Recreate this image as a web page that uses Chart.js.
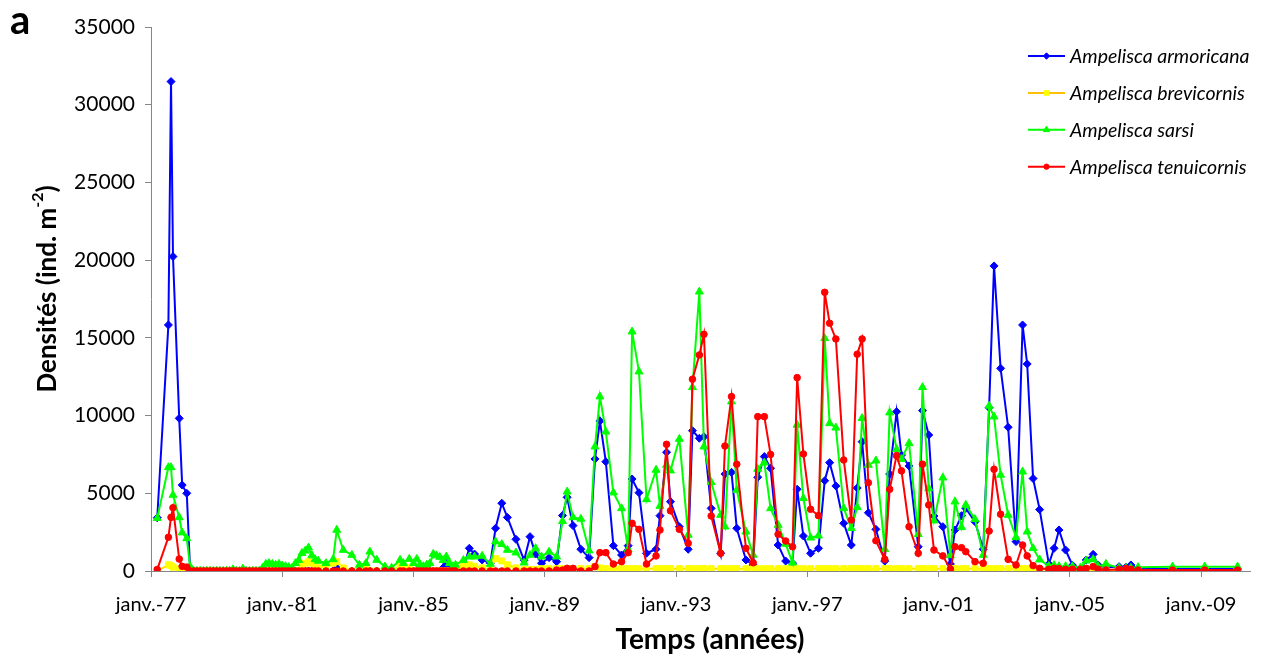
<!DOCTYPE html>
<html>
<head>
<meta charset="utf-8">
<script src="https://cdn.jsdelivr.net/npm/chart.js@4.4.0/dist/chart.umd.min.js"></script>
<style>
  html, body { margin: 0; padding: 0; background: #fff; }
  #wrap { width: 1261px; height: 657px; }
</style>
</head>
<body>
<div id="wrap"><canvas id="chart" width="1261" height="657"></canvas></div>
<script>
// Sampling dates (decimal years) shared by the four species
const dates = [
    1977.19, 1977.53, 1977.61, 1977.67, 1977.86, 1977.95, 1978.09, 1978.19,
    1978.3, 1978.4, 1978.5, 1978.6, 1978.7, 1978.8, 1978.9,
    1979.0, 1979.1, 1979.2, 1979.3, 1979.4, 1979.5, 1979.6, 1979.7, 1979.8, 1979.9,
    1980.0, 1980.1, 1980.2, 1980.3, 1980.4, 1980.5, 1980.6, 1980.7, 1980.8, 1980.9,
    1981.0, 1981.1, 1981.2, 1981.3, 1981.4, 1981.5, 1981.6, 1981.7, 1981.8, 1981.9,
    1982.0, 1982.1,
    1982.33, 1982.55, 1982.66, 1982.86, 1983.12, 1983.35, 1983.55, 1983.67, 1983.88, 1984.13, 1984.33, 1984.59, 1984.69, 1984.87,
    1985.0, 1985.1, 1985.2, 1985.3, 1985.4, 1985.5, 1985.6, 1985.7, 1985.8, 1985.9, 1986.0, 1986.1, 1986.2,
    1986.28, 1986.52, 1986.7, 1986.86,
    1987.09, 1987.34, 1987.5, 1987.69, 1987.86,
    1988.12, 1988.37, 1988.55, 1988.72, 1988.9,
    1989.13, 1989.36, 1989.54, 1989.68, 1989.86,
    1990.1, 1990.35, 1990.53, 1990.68, 1990.86,
    1991.09, 1991.34, 1991.54, 1991.66, 1991.87,
    1992.1, 1992.39, 1992.51, 1992.71, 1992.83,
    1993.1, 1993.37, 1993.5, 1993.71, 1993.85,
    1994.07, 1994.36, 1994.49, 1994.69, 1994.85,
    1995.13, 1995.35, 1995.49, 1995.69, 1995.88,
    1996.11, 1996.34, 1996.55, 1996.69, 1996.88,
    1997.1, 1997.34, 1997.53, 1997.68, 1997.87,
    1998.11, 1998.34, 1998.52, 1998.67, 1998.86,
    1999.09, 1999.36, 1999.51, 1999.72, 1999.87,
    2000.1, 2000.38, 2000.51, 2000.7, 2000.86,
    2001.13, 2001.36, 2001.5, 2001.7, 2001.83,
    2002.11, 2002.36, 2002.54, 2002.69, 2002.89,
    2003.12, 2003.36, 2003.56, 2003.7, 2003.88,
    2004.08, 2004.36, 2004.52, 2004.67, 2004.87,
    2005.08, 2005.32, 2005.5, 2005.71, 2005.86,
    2006.1, 2006.5, 2006.71, 2006.86,
    2007.08, 2008.13, 2009.11, 2010.11
];

const armoricana = [
    3430, 15830, 31490, 20230, 9820, 5530, 5000, 150,
    0, 0, 0, 0, 0, 0, 0,
    0, 0, 0, 0, 0, 0, 0, 0, 0, 0,
    0, 0, 0, 0, 0, 0, 0, 0, 0, 0,
    0, 0, 0, 0, 0, 0, 0, 0, 0, 0,
    0, 0,
    0, 0, 200, 0, 0, 0, 0, 0, 0, 0, 0, 0, 0, 0,
    0, 0, 300, 0, 0, 0, 0, 0, 0, 200, 530, 100, 0,
    0, 200, 1460, 1090,
    710, 500, 2750, 4360, 3450,
    2040, 700, 2210, 1090, 500,
    860, 600, 3570, 4740, 2920,
    1400, 860, 7210, 9650, 7030,
    1630, 1030, 1630, 5920, 5040,
    1140, 1400, 3560, 7640, 4460,
    2850, 1400, 9030, 8540, 8640,
    4030, 1140, 6240, 6350, 2750,
    710, 390, 6030, 7360, 6610,
    1670, 640, 500, 5260, 2250,
    1140, 1460, 5810, 6970, 5470,
    3070, 1670, 5340, 8320, 3750,
    2680, 640, 6240, 10250, 7460,
    6760, 1560, 10320, 8750, 3540,
    2850, 450, 2640, 3560, 4030,
    3170, 1400, 10510, 19630, 13040,
    9250, 1890, 15830, 13320, 5950,
    3950, 450, 1460, 2640, 1350,
    370, 110, 710, 1070, 390,
    240, 280, 250, 390,
    130, 130, 130, 130
];

const brevicornis = [
    0, 400, 350, 250, 150, 100, 50, 0,
    0, 0, 0, 0, 0, 0, 0,
    0, 0, 0, 0, 0, 0, 0, 0, 0, 0,
    0, 0, 0, 0, 0, 0, 0, 0, 0, 0,
    0, 0, 0, 0, 0, 0, 300, 500, 600, 500,
    300, 200,
    300, 500, 600, 200, 0, 0, 100, 0, 0, 0, 0, 300, 300, 200,
    0, 0, 0, 0, 0, 0, 0, 0, 0, 0, 0, 0, 0,
    100, 300, 400, 300,
    200, 100, 800, 650, 400,
    200, 100, 100, 100, 150,
    150, 150, 150, 150, 150,
    150, 150, 300, 200, 150,
    150, 150, 150, 150, 150,
    150, 150, 150, 150, 150,
    150, 150, 150, 150, 150,
    150, 150, 150, 150, 150,
    150, 150, 150, 150, 150,
    150, 150, 150, 150, 150,
    150, 150, 150, 150, 150,
    150, 150, 150, 150, 150,
    150, 150, 150, 150, 150,
    150, 150, 150, 150, 150,
    150, 150, 150, 150, 150,
    150, 150, 150, 150, 150,
    150, 150, 150, 150, 150,
    100, 100, 100, 100, 100,
    50, 50, 50, 50, 50,
    50, 50, 50, 50,
    0, 0, 0, 0
];

const sarsi = [
    3400, 6670, 6670, 4890, 3450, 2470, 2100, 300,
    0, 0, 0, 0, 0, 0, 0,
    0, 0, 0, 0, 0, 100, 0, 0, 150, 0,
    0, 0, 0, 0, 200, 450, 500, 450, 400, 450,
    350, 300, 250, 200, 500, 700, 1150, 1300, 1500, 1000,
    750, 650,
    500, 750, 2640, 1350, 1030, 390, 500, 1240, 710, 280, 200, 710, 500, 770,
    500, 770, 400, 300, 400, 500, 1090, 1000, 900, 700, 920, 500, 300,
    390, 700, 920, 920,
    970, 450, 1890, 1720, 1350,
    1180, 530, 1030, 1460, 920,
    1240, 920, 3200, 5100, 3450,
    3350, 1310, 8000, 11220, 8960,
    5040, 4030, 1400, 15400, 12830,
    4610, 6500, 4180, 6820, 6460,
    8490, 2320, 11820, 17970, 8000,
    5710, 3600, 2850, 10900, 5210,
    2530, 1030, 6560, 6970, 4030,
    2960, 1740, 530, 9400, 4680,
    2140, 2270, 14970, 9500, 9220,
    4030, 2750, 4100, 9830, 6820,
    7100, 1400, 10190, 7830, 7190,
    8220, 2360, 11820, 5320, 3240,
    6000, 1000, 4460, 2810, 4250,
    3330, 1030, 10620, 9930, 6180,
    3600, 2170, 6390, 2530, 1460,
    730, 320, 370, 300, 300,
    300, 200, 660, 750, 300,
    450, 200, 200, 200,
    240, 280, 280, 280
];

const tenuicornis = [
    100, 2170, 3450, 4070, 770, 300, 250, 0,
    0, 0, 0, 0, 0, 0, 0,
    0, 0, 0, 0, 0, 0, 0, 0, 0, 0,
    0, 0, 0, 0, 0, 0, 0, 0, 0, 0,
    0, 0, 0, 0, 0, 0, 0, 0, 0, 0,
    0, 0,
    0, 0, 0, 0, 0, 0, 0, 0, 0, 0, 0, 0, 0, 0,
    0, 0, 0, 0, 0, 0, 0, 0, 0, 0, 0, 0, 0,
    0, 0, 0, 0,
    0, 0, 0, 0, 0,
    0, 0, 0, 0, 0,
    0, 60, 60, 170, 170,
    0, 0, 280, 1180, 1180,
    450, 600, 1180, 3070, 2680,
    450, 970, 2640, 8150, 3870,
    2680, 1780, 12340, 13900, 15230,
    3540, 1140, 8040, 11220, 6870,
    1460, 530, 9930, 9930, 7500,
    2360, 1930, 1560, 12440, 7530,
    3970, 3560, 17930, 15940, 14930,
    7140, 3280, 13950, 14930, 5680,
    1950, 750, 5260, 7420, 6440,
    2850, 1140, 6870, 4250, 1350,
    970, 120, 1560, 1500, 1240,
    600, 500, 2570, 6540, 3650,
    750, 390, 1670, 970, 350,
    170, 110, 170, 150, 110,
    110, 110, 170, 280, 110,
    60, 110, 170, 110,
    60, 60, 60, 60
];

const tickYears = [1977, 1981, 1985, 1989, 1993, 1997, 2001, 2005, 2009];
const tickLabels = ['janv.-77', 'janv.-81', 'janv.-85', 'janv.-89', 'janv.-93', 'janv.-97', 'janv.-01', 'janv.-05', 'janv.-09'];

const FONT = 'Lato, "Open Sans", sans-serif';
const AXIS_GREY = '#868686';

function series(label, values, fill, line, style, radius, order) {
    return {
        label,
        data: dates.map((d, i) => ({ x: d, y: values[i] })),
        borderColor: line,
        backgroundColor: fill,
        pointBackgroundColor: fill,
        pointBorderColor: fill,
        pointBorderWidth: 1,
        pointStyle: style,
        pointRadius: radius,
        borderWidth: 2,
        tension: 0,
        order,
    };
}

// titles, panel letter and the legend on the right
const decorations = {
    id: 'decorations',
    afterDraw(chart) {
        const ctx = chart.ctx;
        ctx.save();
        ctx.fillStyle = '#000';

        ctx.font = 'bold 40px ' + FONT;
        ctx.textBaseline = 'alphabetic';
        ctx.textAlign = 'left';
        ctx.fillText('a', 10, 34);

        // y title with superscript
        ctx.save();
        ctx.translate(48, 289);
        ctx.rotate(-Math.PI / 2);
        const main = 'Densités (ind. m', sup = '-2', close = ')';
        ctx.font = 'bold 26px ' + FONT;
        const w1 = ctx.measureText(main).width, w3 = ctx.measureText(close).width;
        ctx.font = 'bold 16px ' + FONT;
        const w2 = ctx.measureText(sup).width;
        const x = -(w1 + w2 + w3) / 2;
        ctx.textBaseline = 'middle';
        ctx.font = 'bold 26px ' + FONT;
        ctx.fillText(main, x, 0);
        ctx.font = 'bold 16px ' + FONT;
        ctx.fillText(sup, x + w1, -10);
        ctx.font = 'bold 26px ' + FONT;
        ctx.fillText(close, x + w1 + w2, 0);
        ctx.restore();

        ctx.font = 'bold 28px ' + FONT;
        ctx.textAlign = 'center';
        ctx.textBaseline = 'middle';
        ctx.fillText('Temps (années)', 710, 640);

        // legend
        ctx.textAlign = 'left';
        ctx.font = 'italic 19.5px ' + FONT;
        chart.data.datasets.forEach((ds, row) => {
            const y = 56 + row * 36.9;
            ctx.strokeStyle = ds.legendLine || ds.borderColor;
            ctx.lineWidth = 2;
            ctx.beginPath();
            ctx.moveTo(1028, y);
            ctx.lineTo(1065, y);
            ctx.stroke();
            ctx.fillStyle = ds.pointBackgroundColor;
            ctx.strokeStyle = ds.pointBorderColor;
            ctx.lineWidth = 1;
            Chart.helpers.drawPoint(ctx, { pointStyle: ds.pointStyle, radius: ds.pointRadius * 0.8, borderWidth: 1, rotation: 0 }, 1046.5, y);
            ctx.fillStyle = '#000';
            ctx.fillText(ds.label, 1070, y + 1);
        });
        ctx.restore();
    }
};

const yellowSeries = series('Ampelisca brevicornis', brevicornis, '#FFFF00', '#FFE000', 'rect', 4.2, 3);
yellowSeries.legendLine = '#FFC000';

new Chart(document.getElementById('chart'), {
    type: 'line',
    data: {
        datasets: [
            series('Ampelisca armoricana', armoricana, '#0000FF', '#0000FF', 'rectRot', 4, 4),
            yellowSeries,
            series('Ampelisca sarsi', sarsi, '#00FF00', '#00FF00', 'triangle', 4.6, 2),
            series('Ampelisca tenuicornis', tenuicornis, '#FF0000', '#FF0000', 'circle', 3.3, 1),
        ],
    },
    options: {
        responsive: false,
        animation: false,
        layout: { padding: { top: 27, right: 11, bottom: 0, left: 0 } },
        plugins: {
            legend: { display: false },
            tooltip: { enabled: false },
        },
        scales: {
            x: {
                type: 'linear',
                min: 1977,
                max: 2010.49,
                afterBuildTicks: (s) => { s.ticks = tickYears.map(v => ({ value: v })); },
                afterFit: (s) => { s.height = 86; },
                ticks: {
                    autoSkip: false,
                    maxRotation: 0,
                    padding: 16,
                    color: '#000',
                    font: { family: FONT, size: 20 },
                    callback: (v, i) => tickLabels[i],
                },
                grid: { drawOnChartArea: false, tickLength: 6, color: AXIS_GREY },
                border: { color: AXIS_GREY, width: 1 },
            },
            y: {
                min: 0,
                max: 35000,
                afterFit: (s) => { s.width = 151; },
                ticks: {
                    stepSize: 5000,
                    padding: 10,
                    color: '#000',
                    font: { family: FONT, size: 21 },
                    callback: (v) => String(v),
                },
                grid: { drawOnChartArea: false, tickLength: 6, color: AXIS_GREY },
                border: { color: AXIS_GREY, width: 1 },
            },
        },
    },
    plugins: [decorations],
});
</script>
</body>
</html>
